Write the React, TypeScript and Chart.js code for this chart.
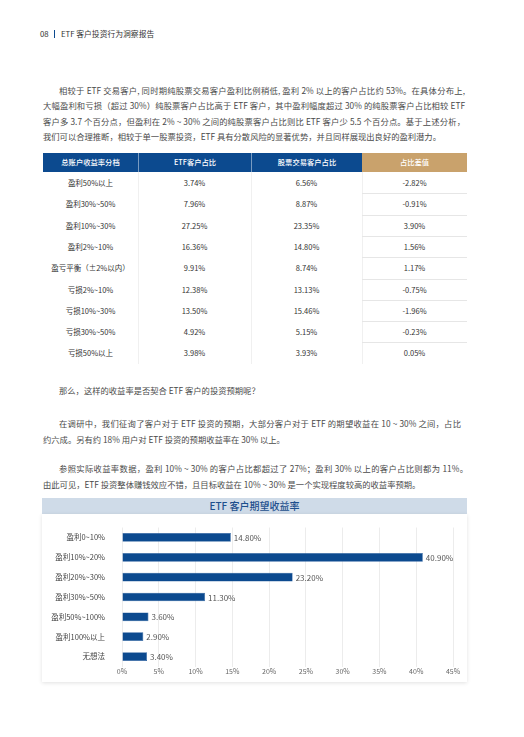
import React, { useEffect, useRef } from "react";
import { Chart, registerables } from "chart.js";

Chart.register(...registerables);

// ---- Chart data ----
const categories = ["盈利0~10%", "盈利10%~20%", "盈利20%~30%", "盈利30%~50%", "盈利50%~100%", "盈利100%以上", "无想法"];
const expectValues = [14.8, 40.9, 23.2, 11.3, 3.6, 2.9, 3.4];
const xMin = 0;
const xMax = 45;
const xStep = 5;

// ---- Table data ----
const tableHeaders = ["总账户收益率分档", "ETF客户占比", "股票交易客户占比", "占比差值"];
const tiers = ["盈利50%以上", "盈利30%~50%", "盈利10%~30%", "盈利2%~10%", "盈亏平衡（±2%以内）", "亏损2%~10%", "亏损10%~30%", "亏损30%~50%", "亏损50%以上"];
const etfShare = ["3.74%", "7.96%", "27.25%", "16.36%", "9.91%", "12.38%", "13.50%", "4.92%", "3.98%"];
const stockShare = ["6.56%", "8.87%", "23.35%", "14.80%", "8.74%", "13.13%", "15.46%", "5.15%", "3.93%"];
const diffShare = ["-2.82%", "-0.91%", "3.90%", "1.56%", "1.17%", "-0.75%", "-1.96%", "-0.23%", "0.05%"];

// ---- Text ----
const para1 = [
  "相较于 ETF 交易客户, 同时期纯股票交易客户盈利比例稍低, 盈利 2% 以上的客户占比约 53%。在具体分布上,",
  "大幅盈利和亏损（超过 30%）纯股票客户占比高于 ETF 客户，其中盈利幅度超过 30% 的纯股票客户占比相较 ETF",
  "客户多 3.7 个百分点，但盈利在 2% ~ 30% 之间的纯股票客户占比则比 ETF 客户少 5.5 个百分点。基于上述分析，",
  "我们可以合理推断，相较于单一股票投资，ETF 具有分散风险的显著优势，并且同样展现出良好的盈利潜力。",
];
const para2 = "那么，这样的收益率是否契合 ETF 客户的投资预期呢？";
const para3 = [
  "在调研中，我们征询了客户对于 ETF 投资的预期，大部分客户对于 ETF 的期望收益在 10 ~ 30% 之间，占比",
  "约六成。另有约 18% 用户对 ETF 投资的预期收益率在 30% 以上。",
];
const para4 = [
  "参照实际收益率数据，盈利 10% ~ 30% 的客户占比都超过了 27%；盈利 30% 以上的客户占比则都为 11%。",
  "由此可见，ETF 投资整体赚钱效应不错，且目标收益在 10% ~ 30% 是一个实现程度较高的收益率预期。",
];
const chartTitle = "ETF 客户期望收益率";

const FONT = "'Noto Sans CJK SC', 'Noto Sans', sans-serif";
const BLUE = "#0c4a8f";
const GOLD = "#c9a26c";

function TextLine({ x, y, w, text, justify }: { x: number; y: number; w: number; text: string; justify?: boolean }) {
  return (
    <div
      style={{
        position: "absolute",
        left: x,
        top: y - 7,
        width: w,
        height: 14,
        lineHeight: "14px",
        fontSize: 8.3,
        color: "#4a4a4a",
        whiteSpace: justify ? "normal" : "nowrap",
        textAlign: justify ? "justify" : "left",
        textAlignLast: justify ? "justify" : "left",
        overflow: "visible",
      } as React.CSSProperties}
    >
      {text}
    </div>
  );
}

const labelPlugin = {
  id: "barValueLabels",
  afterDatasetsDraw(chart: any) {
    const ctx = chart.ctx;
    const meta = chart.getDatasetMeta(0);
    ctx.save();
    ctx.font = `8px ${FONT}`;
    ctx.fillStyle = "#555";
    ctx.textAlign = "left";
    ctx.textBaseline = "middle";
    meta.data.forEach((bar: any, i: number) => {
      const v = chart.data.datasets[0].data[i] as number;
      ctx.fillText(v.toFixed(2) + "%", bar.x + 3, bar.y + 0.5);
    });
    ctx.restore();
  },
};

function ExpectChart() {
  const ref = useRef<HTMLCanvasElement | null>(null);
  useEffect(() => {
    if (!ref.current) return;
    const chart = new Chart(ref.current, {
      type: "bar",
      data: {
        labels: categories,
        datasets: [
          {
            data: expectValues,
            backgroundColor: BLUE,
            borderColor: "#2b60a0",
            borderWidth: 0.6,
            categoryPercentage: 1,
            barPercentage: 0.44,
          },
        ],
      },
      options: {
        indexAxis: "y",
        animation: false,
        responsive: false,
        devicePixelRatio: 1,
        layout: { padding: { top: 6.5, right: 14, bottom: 2, left: 0 } },
        plugins: { legend: { display: false }, tooltip: { enabled: false }, title: { display: false } },
        scales: {
          x: {
            min: xMin,
            max: xMax,
            ticks: {
              stepSize: xStep,
              padding: 1,
              color: "#666",
              font: { family: FONT, size: 7 },
              callback: (v: any) => v + "%",
            },
            grid: { color: "#ececec", drawTicks: false },
            border: { display: false },
          },
          y: {
            ticks: { padding: 9, color: "#444", font: { family: FONT, size: 7.5 } },
            grid: { display: false },
            border: { display: false },
            afterFit: (scale: any) => {
              scale.width = 80;
            },
          },
        },
      },
      plugins: [labelPlugin],
    } as any);
    return () => chart.destroy();
  }, []);
  return <canvas ref={ref} width={425} height={166} style={{ position: "absolute", left: 42, top: 514, width: 425, height: 166 }} />;
}

export default function App() {
  const colX = [43, 138, 251, 362, 467];
  const headerTop = 153;
  const headerH = 19;
  const rowH = 21.3;
  const bodyTop = headerTop + headerH;
  const rows = tiers.map((t, i) => [t, etfShare[i], stockShare[i], diffShare[i]]);

  return (
    <div style={{ position: "absolute", left: 0, top: 0, width: 524, height: 737, background: "#fff", fontFamily: FONT, overflow: "hidden" }}>
      {/* page header */}
      <div style={{ position: "absolute", left: 40, top: 27, height: 14, lineHeight: "14px", fontSize: 7.8, color: "#333", whiteSpace: "nowrap" }}>
        08<span style={{ display: "inline-block", width: 1.3, height: 8, background: BLUE, margin: "0 6px 0 5px", verticalAlign: "-1px" }} />ETF 客户投资行为洞察报告
      </div>

      {/* paragraph 1 */}
      {para1.map((t, i) => (
        <TextLine key={"p1" + i} x={i === 0 ? 59 : 43} y={90 + i * 15.4} w={i === 0 ? 406 : 422} text={t} justify={i < para1.length - 1} />
      ))}

      {/* table header */}
      {tableHeaders.map((h, c) => (
        <div
          key={"th" + c}
          style={{
            position: "absolute",
            left: colX[c],
            top: headerTop,
            width: colX[c + 1] - colX[c],
            height: headerH,
            lineHeight: headerH + "px",
            background: c === 3 ? GOLD : BLUE,
            color: "#fff",
            fontSize: 7.3,
            fontWeight: 500,
            textAlign: "center",
            boxSizing: "border-box",
            borderLeft: c > 0 && c < 3 ? "1px solid rgba(255,255,255,0.45)" : "none",
          }}
        >
          {h}
        </div>
      ))}
      {/* table body lines */}
      {[1, 2, 3].map((c) => (
        <div key={"vl" + c} style={{ position: "absolute", left: colX[c], top: bodyTop, width: 1, height: rowH * tiers.length, background: "#f0f0f0" }} />
      ))}
      {tiers.slice(1).map((_, i) => (
        <div key={"hl" + i} style={{ position: "absolute", left: colX[3], top: bodyTop + (i + 1) * rowH, width: colX[4] - colX[3], height: 1, background: "#e6e6e6" }} />
      ))}
      {rows.map((r, ri) =>
        r.map((cell, c) => (
          <div
            key={"td" + ri + "_" + c}
            style={{
              position: "absolute",
              left: colX[c],
              top: bodyTop + ri * rowH,
              width: colX[c + 1] - colX[c],
              height: rowH,
              lineHeight: rowH + "px",
              fontSize: 7.5,
              color: "#333",
              textAlign: "center",
              whiteSpace: "nowrap",
            }}
          >
            {cell}
          </div>
        ))
      )}

      {/* paragraphs 2-4 */}
      <TextLine x={59} y={390} w={406} text={para2} />
      {para3.map((t, i) => (
        <TextLine key={"p3" + i} x={i === 0 ? 59 : 43} y={423 + i * 16} w={i === 0 ? 402 : 422} text={t} justify={i === 0} />
      ))}
      {para4.map((t, i) => (
        <TextLine key={"p4" + i} x={i === 0 ? 59 : 43} y={468 + i * 16} w={i === 0 ? 409 : 422} text={t} justify={i === 0} />
      ))}

      {/* chart card */}
      <div style={{ position: "absolute", left: 42, top: 498, width: 425, height: 16, background: "#cfdbe8", color: "#1d4f8d", fontSize: 10, fontWeight: 500, textAlign: "center", lineHeight: "16px" }}>
        {chartTitle}
      </div>
      <div style={{ position: "absolute", left: 42, top: 514, width: 425, height: 168, background: "#fff", boxShadow: "0 1px 4px rgba(0,0,0,0.12)" }} />
      <ExpectChart />
    </div>
  );
}
